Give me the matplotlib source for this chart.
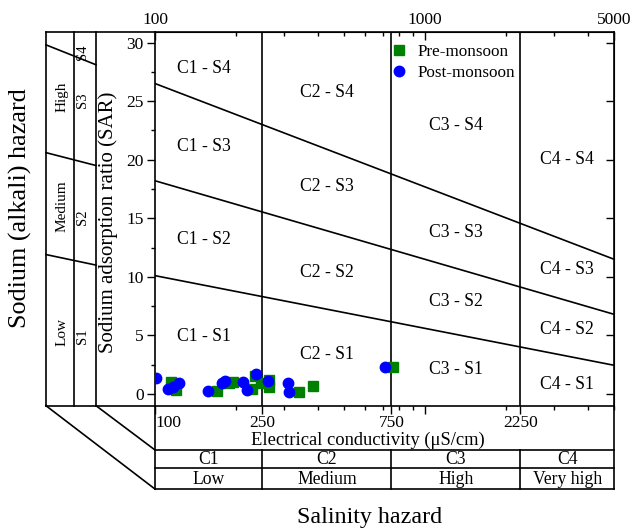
import matplotlib
matplotlib.use("Agg")
import matplotlib.pyplot as plt
import matplotlib.transforms as mtransforms
from matplotlib.ticker import NullFormatter, MultipleLocator

plt.rcParams['font.family'] = ['Liberation Serif', 'DejaVu Serif']

# salinity class limits (EC, uS/cm)
ec_limits = [100, 250, 750, 2250, 5000]
salinity_classes = ['C1', 'C2', 'C3', 'C4']
salinity_names = ['Low', 'Medium', 'High', 'Very high']
sodium_classes = ['S1', 'S2', 'S3', 'S4']
sodium_names = ['Low', 'Medium', 'High']

# sodium class boundaries: SAR at EC = 100 and EC = 5000
ec_ends = [100, 5000]
sar_s1_s2 = [10.1, 2.45]
sar_s2_s3 = [18.2, 6.8]
sar_s3_s4 = [26.5, 11.5]

# samples
pre_ec = [115, 120, 170, 188, 194, 228, 234, 246, 265, 265, 340, 386, 763]
pre_sar = [1.05, 0.34, 0.26, 0.97, 1.0, 0.40, 1.54, 0.97, 1.2, 0.62, 0.17, 0.71, 2.28]
post_ec = [101, 112, 117, 123, 157, 177, 182, 212, 220, 237, 263, 312, 314, 711]
post_sar = [1.4, 0.40, 0.57, 0.97, 0.28, 0.97, 1.11, 1.05, 0.34, 1.71, 1.11, 0.97, 0.17, 2.28]

fig = plt.figure(figsize=(6.3, 5.31), dpi=100)
ax = fig.add_axes([0.246, 0.236, 0.7286, 0.7038])
ax.set_xscale('log')
ax.set_xlim(ec_limits[0], ec_limits[-1])
ax.set_ylim(-1, 30.9)

lw = 1.2
for ec in ec_limits[1:-1]:
    ax.axvline(ec, color='k', lw=lw)
for b in (sar_s1_s2, sar_s2_s3, sar_s3_s4):
    ax.plot(ec_ends, b, color='k', lw=lw)

ax.plot(pre_ec, pre_sar, ls='none', marker='s', ms=6.5, color='#008000',
        label='Pre-monsoon', zorder=3)
ax.plot(post_ec, post_sar, ls='none', marker='o', ms=7.5, color='#0000ff',
        label='Post-monsoon', zorder=4)
ax.legend(loc='upper left', bbox_to_anchor=(0.505, 0.977), frameon=False,
          fontsize=12.3, handlelength=1.0, handletextpad=0.6, labelspacing=0.3,
          borderaxespad=0, borderpad=0.2)

# class labels inside the diagram
col_x = [152, 433, 1299, 3354]
row_y = [[4.9, 13.2, 21.1, 27.8],
         [3.4, 10.4, 17.7, 25.7],
         [2.1, 7.9, 13.8, 22.9],
         [0.8, 5.5, 10.6, 20.0]]
for i, c in enumerate(salinity_classes):
    for j, s in enumerate(sodium_classes):
        ax.text(col_x[i], row_y[i][j], f'{c} - {s}', ha='center', va='center',
                fontsize=12.7)

# axes ticks
ax.set_yticks(range(0, 31, 5))
ax.yaxis.set_minor_locator(MultipleLocator(2.5))
ax.tick_params(axis='y', which='major', direction='out', length=6, width=1,
               labelsize=12.5, pad=2)
ax.tick_params(axis='y', which='minor', direction='out', length=3, width=1)
ax.set_xticks([100, 250, 750, 1000, 2250], ['100', '250', '750', '', '2250'])
ax.xaxis.set_minor_formatter(NullFormatter())
ax.tick_params(axis='x', which='major', direction='out', length=6, width=1,
               labelsize=12.5, pad=1)
ax.tick_params(axis='x', which='minor', direction='out', length=3, width=1)
ax.get_xticklabels()[0].set_horizontalalignment('left')
for sp in ax.spines.values():
    sp.set_linewidth(lw)

top = ax.secondary_xaxis('top')
top.set_xticks([100, 1000, 5000], ['100', '1000', '5000'])
top.xaxis.set_minor_formatter(NullFormatter())
top.tick_params(which='major', direction='in', length=6, width=1, labelsize=12.5, pad=3)
top.tick_params(which='minor', direction='in', length=3, width=1)

right = ax.secondary_yaxis('right')
right.set_yticks(range(0, 31, 5))
right.tick_params(direction='in', length=6, width=1, labelright=False)

ax.text(0.464, -0.092, 'Electrical conductivity (μS/cm)', transform=ax.transAxes,
        ha='center', va='center', fontsize=13.3)
ax.text(-0.102, 0.49, 'Sodium adsorption ratio (SAR)', transform=ax.transAxes,
        ha='center', va='center', rotation=90, fontsize=15)

# salinity hazard table below the plot
kw = dict(color='k', lw=lw, clip_on=False)
xt = ax.get_xaxis_transform()
for yy in (-0.1185, -0.167, -0.223):
    ax.plot([0, 1], [yy, yy], transform=ax.transAxes, **kw)
for xx in (0, 1):
    ax.plot([xx, xx], [0, -0.223], transform=ax.transAxes, **kw)
for ec in ec_limits[1:-1]:
    ax.plot([ec, ec], [-0.1185, -0.223], transform=xt, **kw)
for i in range(4):
    xc = (ec_limits[i] * ec_limits[i + 1]) ** 0.5
    ax.text(xc, -0.1445, salinity_classes[i], transform=xt, ha='center',
            va='center', fontsize=12.7)
    ax.text(xc, -0.197, salinity_names[i], transform=xt, ha='center',
            va='center', fontsize=12.7)

# sodium hazard panel left of the plot
lt = mtransforms.blended_transform_factory(ax.transAxes, ax.transData)
xa0, xa1, xa2 = -0.2375, -0.1765, -0.1285
for xx in (xa0, xa1, xa2):
    ax.plot([xx, xx], [0, 1], transform=ax.transAxes, **kw)
ax.plot([xa0, 0], [1, 1], transform=ax.transAxes, **kw)
ax.plot([xa0, 0], [0, 0], transform=ax.transAxes, **kw)
ax.plot([xa0, 0], [0, -0.223], transform=ax.transAxes, **kw)
ax.plot([xa2, 0], [0, -0.1185], transform=ax.transAxes, **kw)
ax.plot([xa0, xa2], [29.8, 28.1], transform=lt, **kw)
ax.plot([xa0, xa2], [20.6, 19.5], transform=lt, **kw)
ax.plot([xa0, xa2], [11.9, 11.0], transform=lt, **kw)
for name, yy in zip(sodium_names, [5.3, 16.0, 25.4]):
    ax.text(-0.2026, yy, name, transform=lt, rotation=90, ha='center',
            va='center', fontsize=11)
for name, yy in zip(sodium_classes, [4.9, 15.1, 25.1, 29.2]):
    ax.text(-0.157, yy, name, transform=lt, rotation=90, ha='center',
            va='center', fontsize=10.5)

fig.text(0.032, 0.608, 'Sodium (alkali) hazard', rotation=90, ha='center',
         va='center', fontsize=18.8)
fig.text(0.586, 0.026, 'Salinity hazard', ha='center', va='center', fontsize=17.3)

fig.savefig('out.png', dpi=100)
